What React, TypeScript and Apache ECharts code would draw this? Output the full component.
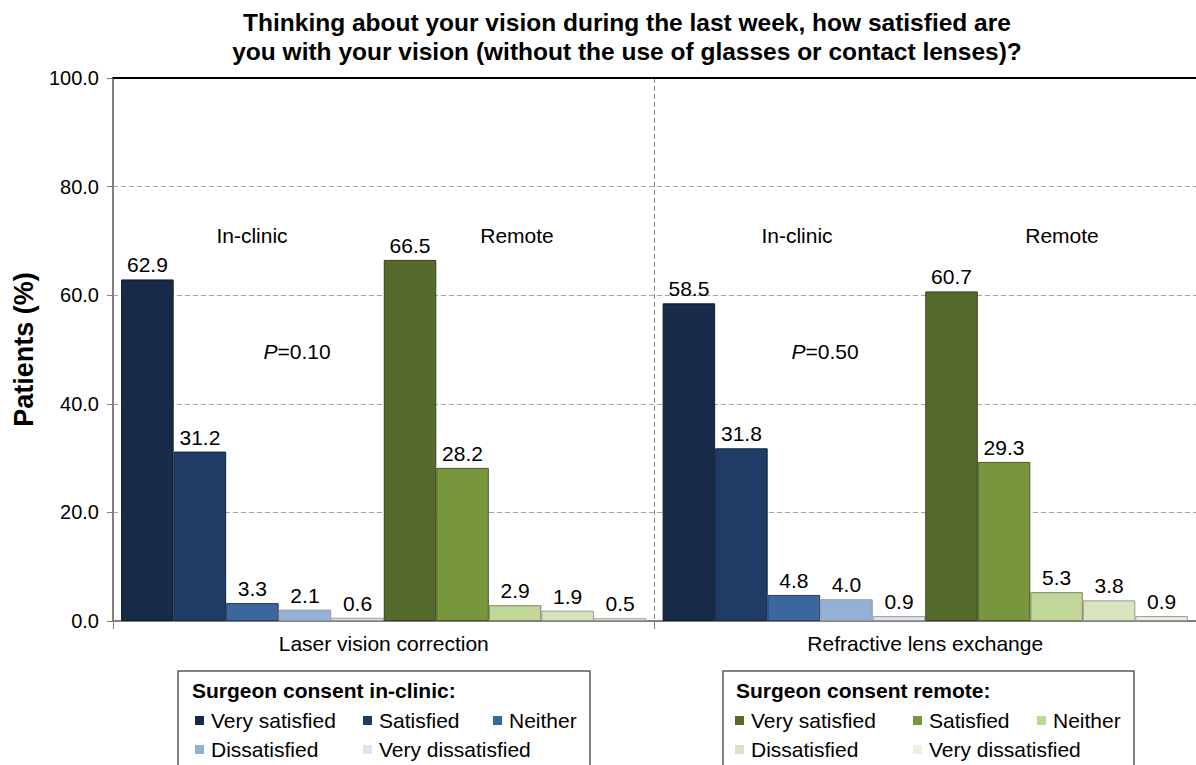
import React, { useEffect, useRef } from "react";
import * as echarts from "echarts";

const categories = ["Laser vision correction", "Refractive lens exchange"];
const levels = ["Very satisfied", "Satisfied", "Neither", "Dissatisfied", "Very dissatisfied"];
const inClinicLVC = [62.9, 31.2, 3.3, 2.1, 0.6];
const inClinicRLE = [58.5, 31.8, 4.8, 4.0, 0.9];
const remoteLVC = [66.5, 28.2, 2.9, 1.9, 0.5];
const remoteRLE = [60.7, 29.3, 5.3, 3.8, 0.9];
const inClinicColors = ["#172a48", "#1f3c66", "#3b679e", "#93b1d7", "#dce6f2"];
const remoteColors = ["#566a2d", "#78963e", "#c4d79b", "#d7e4bd", "#ebf1de"];
const yTicks = { min: 0, max: 100, interval: 20 };
const titleText = "Thinking about your vision during the last week, how satisfied are\nyou with your vision (without the use of glasses or contact lenses)?";

const FONT = "Arial, 'Liberation Sans', sans-serif";

function shade(hex: string, f: number) {
  const n = parseInt(hex.slice(1), 16);
  const r = Math.round(((n >> 16) & 255) * f);
  const g = Math.round(((n >> 8) & 255) * f);
  const b = Math.round((n & 255) * f);
  return `rgb(${r},${g},${b})`;
}

export default function App() {
  const ref = useRef<HTMLDivElement>(null);
  useEffect(() => {
    if (!ref.current) return;
    const chart = echarts.init(ref.current, null, { renderer: "svg" });

    const series: any[] = [];
    const mk = (group: string, vals: number[][], colors: string[]) => {
      levels.forEach((lv, i) => {
        series.push({
          type: "bar",
          name: `${group}|${lv}`,
          data: [vals[0][i], vals[1][i]],
          barGap: "0%",
          barCategoryGap: "3%",
          itemStyle: {
            color: colors[i],
            borderColor: i >= 3 ? "#9a9a9a" : shade(colors[i], 0.6),
            borderWidth: 1,
          },
          label: {
            show: true,
            position: "top",
            distance: 4,
            fontSize: 21,
            fontFamily: FONT,
            color: "#000",
            formatter: (p: any) => Number(p.value).toFixed(1),
          },
        });
      });
    };
    mk("In-clinic", [inClinicLVC, inClinicRLE], inClinicColors);
    mk("Remote", [remoteLVC, remoteRLE], remoteColors);

    const legendCols1 = [195, 363, 493];
    const legendCols2 = [735, 913, 1037];
    const rowsTop = [710, 739];
    const legends: any[] = [];
    const addLegends = (group: string, cols: number[]) => {
      levels.forEach((lv, i) => {
        const row = i < 3 ? 0 : 1;
        const col = i < 3 ? i : i - 3;
        legends.push({
          data: [`${group}|${lv}`],
          left: cols[col],
          top: rowsTop[row],
          padding: 0,
          itemWidth: 9,
          itemHeight: 9,
          icon: "rect",
          selectedMode: false,
          itemStyle: { borderWidth: 0 },
          formatter: (name: string) => name.split("|")[1],
          textStyle: { fontSize: 21, fontFamily: FONT, color: "#000", padding: [0, 0, 0, 2] },
        });
      });
    };
    addLegends("In-clinic", legendCols1);
    addLegends("Remote", legendCols2);

    const txt = (text: string, x: number, y: number, extra: any = {}) => ({
      type: "text",
      x,
      y,
      style: {
        text,
        fontSize: 21,
        fontFamily: FONT,
        fill: "#000",
        align: "center",
        verticalAlign: "middle",
        ...extra,
      },
    });
    const pText = (text: string, x: number, y: number) => ({
      type: "text",
      x,
      y,
      style: {
        text,
        fontSize: 21,
        fontFamily: FONT,
        fill: "#000",
        align: "center",
        verticalAlign: "middle",
        rich: { i: { fontStyle: "italic", fontSize: 21, fontFamily: FONT } },
      },
    });

    chart.setOption({
      animation: false,
      backgroundColor: "#fff",
      grid: { left: 113, top: 78, width: 1086, height: 543 },
      legend: legends,
      xAxis: [
        {
          type: "category",
          data: categories,
          position: "bottom",
          axisLine: { lineStyle: { color: "#808080", width: 2 } },
          axisTick: { show: true, length: 8, interval: 0, lineStyle: { color: "#808080" } },
          splitLine: { show: true, interval: 0, lineStyle: { color: "#8c8c8c", type: [5, 3], width: 1 } },
          axisLabel: { fontSize: 21, fontFamily: FONT, color: "#000", margin: 12 },
        },
        {
          type: "category",
          data: categories,
          position: "top",
          axisLine: { lineStyle: { color: "#000", width: 2 } },
          axisTick: { show: false },
          axisLabel: { show: false },
          splitLine: { show: false },
        },
      ],
      yAxis: {
        type: "value",
        min: yTicks.min,
        max: yTicks.max,
        interval: yTicks.interval,
        name: "Patients (%)",
        nameLocation: "middle",
        nameGap: 76,
        nameTextStyle: { fontSize: 27, fontWeight: "bold", fontFamily: FONT, color: "#000" },
        axisLine: { show: true, lineStyle: { color: "#808080", width: 2 } },
        axisTick: { show: true, length: 6, lineStyle: { color: "#808080" } },
        axisLabel: {
          fontSize: 20,
          fontFamily: FONT,
          color: "#000",
          margin: 14,
          formatter: (v: number) => v.toFixed(1),
        },
        splitLine: { show: true, lineStyle: { color: "#a6a6a6", type: [5, 3], width: 1 } },
      },
      series,
      graphic: [
        txt(titleText, 627, 37, { fontSize: 24.5, fontWeight: "bold", lineHeight: 29 }),
        txt("In-clinic", 252, 235),
        txt("Remote", 517, 235),
        pText("{i|P}=0.10", 297, 351),
        txt("In-clinic", 797, 235),
        txt("Remote", 1062, 235),
        pText("{i|P}=0.50", 825, 351),
        {
          type: "rect",
          shape: { x: 178, y: 671, width: 412, height: 120 },
          style: { fill: "none", stroke: "#595959", lineWidth: 1.5 },
          z: -1,
        },
        {
          type: "rect",
          shape: { x: 723, y: 671, width: 411, height: 120 },
          style: { fill: "none", stroke: "#595959", lineWidth: 1.5 },
          z: -1,
        },
        txt("Surgeon consent in-clinic:", 192, 690, { align: "left", fontWeight: "bold" }),
        txt("Surgeon consent remote:", 736, 690, { align: "left", fontWeight: "bold" }),
      ],
    });
    return () => chart.dispose();
  }, []);
  return (
    <div
      ref={ref}
      style={{ position: "absolute", left: 0, top: 0, width: 1196, height: 765 }}
    />
  );
}
